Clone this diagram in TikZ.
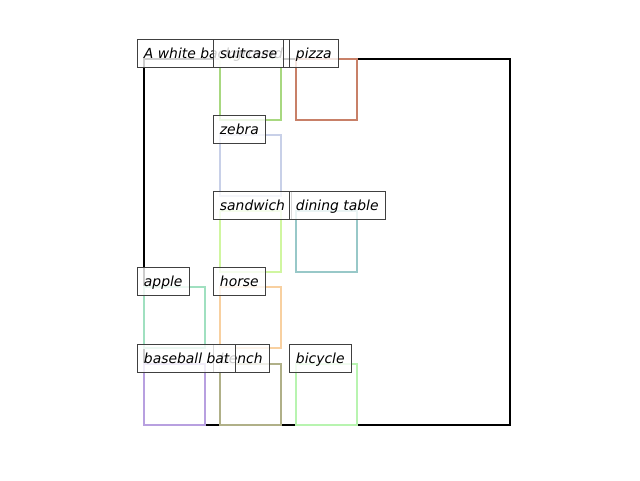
\documentclass[tikz,border=0pt]{standalone}
\usepackage{fontspec}
\setsansfont{DejaVu Sans}
\usetikzlibrary{positioning}
\definecolor{suitgreen}{RGB}{168,216,128}
\definecolor{pizzared}{RGB}{200,128,104}
\definecolor{zebrablue}{RGB}{200,208,232}
\definecolor{sandgreen}{RGB}{208,246,160}
\definecolor{tableteal}{RGB}{152,200,200}
\definecolor{applemint}{RGB}{160,224,192}
\definecolor{horseorange}{RGB}{248,208,160}
\definecolor{batpurple}{RGB}{184,160,224}
\definecolor{bencholive}{RGB}{176,176,136}
\definecolor{bikegreen}{RGB}{184,244,176}

\begin{document}
\begin{tikzpicture}[
  x=1pt, y=1pt,
  box/.style={draw, line width=2pt, minimum size=61pt, inner sep=0pt,
              outer sep=0pt, anchor=north west},
  scenebox/.style={box, draw=black, minimum size=366pt},
  tag/.style={draw=black!75, line width=0.9pt, fill=white, fill opacity=0.8,
              text opacity=1, anchor=south west, inner xsep=6.5pt,
              inner ysep=7pt, text height=12pt, text depth=2pt,
              font=\sffamily\itshape\fontsize{13.9}{16}\selectfont}
]
\useasboundingbox (0,0) rectangle (640,480);

% Boxes
\node[scenebox] (scene) at (144,421) {};
\node[box, draw=suitgreen] (suitcase) at (220,421) {};
\node[box, draw=pizzared] (pizza) at (296,421) {};
\node[box, draw=zebrablue] (zebra) at (220,345) {};
\node[box, draw=sandgreen] (sandwich) at (220,269) {};
\node[box, draw=tableteal] (table) at (296,269) {};
\node[box, draw=applemint] (apple) at (144,193) {};
\node[box, draw=horseorange] (horse) at (220,193) {};
\node[box, draw=batpurple] (bat) at (144,116) {};
\node[box, draw=bencholive] (bench) at (220,116) {};
\node[box, draw=bikegreen] (bicycle) at (296,116) {};

% Labels
\node[tag] (sceneL) at ([shift={(-7,-9)}]scene.north west) {A white background};
\node[tag] (suitcaseL) at ([shift={(-7,-9)}]suitcase.north west) {suitcase};
\node[tag] (pizzaL) at ([shift={(-7,-9)}]pizza.north west) {pizza};
\node[tag] (zebraL) at ([shift={(-7,-9)}]zebra.north west) {zebra};
\node[tag] (sandwichL) at ([shift={(-7,-9)}]sandwich.north west) {sandwich};
\node[tag] (tableL) at ([shift={(-7,-9)}]table.north west) {dining table};
\node[tag] (appleL) at ([shift={(-7,-9)}]apple.north west) {apple};
\node[tag] (horseL) at ([shift={(-7,-9)}]horse.north west) {horse};
\node[tag] (benchL) at ([shift={(-7,-9)}]bench.north west) {bench};
\node[tag] (batL) at ([shift={(-7,-9)}]bat.north west) {baseball bat};
\node[tag] (bicycleL) at ([shift={(-7,-9)}]bicycle.north west) {bicycle};

\end{tikzpicture}
\end{document}
